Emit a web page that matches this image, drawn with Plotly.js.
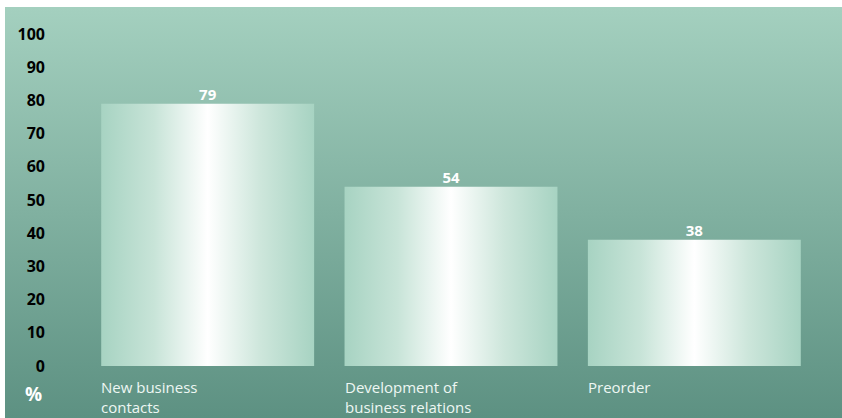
<!DOCTYPE html>
<html>
<head>
<meta charset="utf-8">
<script src="https://cdn.plot.ly/plotly-3.0.1.min.js"></script>
<style>
  html, body { margin: 0; padding: 0; background: #ffffff; }
  #chart {
    width: 842px; height: 418px;
    background: linear-gradient(to bottom, #a4d0bf, #5d9182) 5px 7px / 837px 411px no-repeat, #ffffff;
  }
</style>
</head>
<body>
<div id="chart"></div>
<script>
// ---- data ----
const categories = ["New business<br>contacts", "Development of<br>business relations", "Preorder"];
const values = [79, 54, 38];
const yTickValues = [0, 10, 20, 30, 40, 50, 60, 70, 80, 90, 100];
const yTickLabels = ["0", "10", "20", "30", "40", "50", "60", "70", "80", "90", "100"];
const unitLabel = "%";

// ---- styling ----
const barWidth = 0.875;
const barScale = [[0, '#a7d3c2'], [0.25, '#c8e4d8'], [0.5, '#ffffff'], [0.75, '#cde6db'], [1, '#a7d3c2']];
const fontFam = '"Open Sans", "Noto Sans", sans-serif';

const traces = [];
categories.forEach((c, i) => {
  const v = values[i];
  const x0 = i - barWidth / 2, x1 = i + barWidth / 2;
  traces.push({
    type: 'scatter', mode: 'none',
    x: [x0, x1, x1, x0, x0],
    y: [0, 0, v, v, 0],
    fill: 'toself',
    fillcolor: '#e0f0e8',
    fillgradient: { type: 'horizontal', colorscale: barScale, start: x0, stop: x1 },
    hoverinfo: 'skip', showlegend: false
  });
});
traces.push({
  type: 'scatter', mode: 'text',
  x: categories.map((c, i) => i),
  y: values,
  text: values.map(v => String(v)),
  textposition: 'top center',
  textfont: { family: fontFam, size: 15, color: '#ffffff', weight: 'bold' },
  cliponaxis: false,
  hoverinfo: 'skip', showlegend: false
});

const annotations = categories.map((c, i) => ({
  xref: 'x', yref: 'paper',
  x: i - barWidth / 2, y: 0,
  xanchor: 'left', yanchor: 'top', yshift: -7, xshift: -2,
  align: 'left',
  text: c, showarrow: false,
  font: { family: fontFam, size: 15, color: '#eef7f3' }
}));
annotations.push({
  xref: 'paper', yref: 'paper',
  x: -0.0725, y: 0, xanchor: 'center', yanchor: 'top', yshift: -11,
  text: unitLabel, showarrow: false,
  font: { family: fontFam, size: 19, color: '#ffffff', weight: 'bold' }
});

const layout = {
  width: 842, height: 418,
  margin: { l: 86, r: 26, t: 34, b: 50 },
  paper_bgcolor: 'rgba(0,0,0,0)',
  plot_bgcolor: 'rgba(0,0,0,0)',
  xaxis: {
    range: [-0.5, 2.5], showgrid: false, zeroline: false,
    showticklabels: false, ticks: '', showline: false, fixedrange: true
  },
  yaxis: {
    range: [-0.6, 100], showgrid: false, zeroline: false, showline: false,
    tickmode: 'array', tickvals: yTickValues, ticktext: yTickLabels,
    ticks: '', ticklabelstandoff: 40,
    tickfont: { family: fontFam, size: 16, color: '#000000', weight: 'bold' },
    fixedrange: true
  },
  annotations: annotations,
  showlegend: false
};

Plotly.newPlot('chart', traces, layout, { displayModeBar: false, staticPlot: true });
</script>
</body>
</html>
